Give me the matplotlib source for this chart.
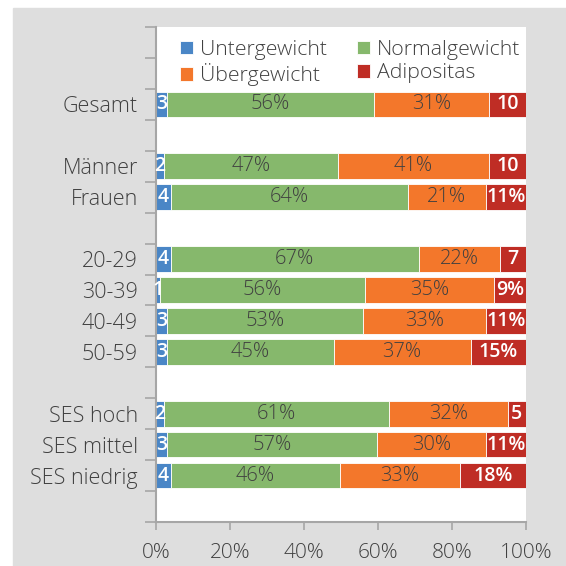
import matplotlib
matplotlib.use("Agg")
from matplotlib import pyplot as plt
from matplotlib.patches import Rectangle

# categories, top to bottom; None marks an empty spacer row
categories = [None, None, "Gesamt", None, "Männer", "Frauen", None,
              "20-29", "30-39", "40-49", "50-59", None,
              "SES hoch", "SES mittel", "SES niedrig", None]

series = ["Untergewicht", "Normalgewicht", "Übergewicht", "Adipositas"]

# values in %, one per non-empty row (same order as categories)
untergewicht = [2.9, 2.1, 4.0, 4.0, 1.0, 3.0, 3.0, 2.2, 3.0, 4.0]
normalgewicht = [56.1, 47.1, 64.0, 67.0, 55.6, 53.0, 45.0, 60.9, 56.6, 45.6]
uebergewicht = [31.0, 40.8, 21.1, 22.0, 34.7, 33.1, 37.0, 32.0, 29.6, 32.6]
adipositas = [10.0, 10.0, 10.9, 7.0, 8.8, 10.9, 15.0, 4.9, 10.8, 17.8]

adipositas_labels = ["10", "10", "11%", "7", "9%", "11%", "15%", "5", "11%", "18%"]

colors = ["#4a86c6", "#86b86c", "#f3772b", "#bf2d25"]
text_dark = "#404040"
font = "Open Sans"

plt.rcParams["font.family"] = [font, "DejaVu Sans"]

fig = plt.figure(figsize=(5.66, 5.66), dpi=100)
fig.add_artist(Rectangle((13 / 566, 0), 1, 1 - 8 / 566,
                         transform=fig.transFigure, color="#dedede", zorder=0))
ax = fig.add_axes([156 / 566, 1 - 522 / 566, 370 / 566, 495 / 566])
ax.set_facecolor("white")

rows = [i for i, c in enumerate(categories) if c is not None]
data = [untergewicht, normalgewicht, uebergewicht, adipositas]

left = [0.0] * len(rows)
bars = []
for name, vals, col in zip(series, data, colors):
    b = ax.barh(rows, vals, left=left, height=0.83, color=col,
                edgecolor="white", linewidth=0.6, label=name)
    bars.append(b)
    left = [l + v for l, v in zip(left, vals)]

# segment labels
for i, y in enumerate(rows):
    x0 = 0.0
    for k, vals in enumerate(data):
        v = vals[i]
        xc = x0 + v / 2
        if k == 0:
            ax.text(xc, y, f"{round(v)}", ha="center", va="center",
                    color="white", fontsize=14, fontweight="semibold")
        elif k == 3:
            ax.text(xc, y, adipositas_labels[i], ha="center", va="center",
                    color="white", fontsize=14, fontweight="semibold")
        else:
            ax.text(xc, y, f"{round(v)}%", ha="center", va="center",
                    color=text_dark, fontsize=14.5, fontweight="light")
        x0 += v

ax.set_xlim(0, 100)
ax.set_ylim(len(categories) - 0.5, -0.5)

ax.set_xticks(range(0, 101, 20))
ax.set_xticklabels([f"{t}%" for t in range(0, 101, 20)])
ax.set_yticks(rows)
ax.set_yticklabels([categories[r] for r in rows])
ax.set_yticks([i - 0.5 for i in range(len(categories) + 1)], minor=True)

ax.tick_params(axis="y", which="major", length=0, pad=13, labelsize=15.5,
               labelcolor=text_dark)
ax.tick_params(axis="y", which="minor", length=8, color="#a6a6a6", width=1.2)
ax.tick_params(axis="x", length=6, color="#a6a6a6", width=1.2, labelsize=15,
               labelcolor=text_dark, pad=9)
for lbl in ax.get_yticklabels() + ax.get_xticklabels():
    lbl.set_fontweight("light")

for s in ["top", "right"]:
    ax.spines[s].set_visible(False)
for s in ["left", "bottom"]:
    ax.spines[s].set_color("#a6a6a6")
    ax.spines[s].set_linewidth(1.5)

order = [0, 2, 1, 3]
handles = [bars[i] for i in order]
leg = ax.legend(handles, [series[i] for i in order], ncol=2, frameon=False,
                loc="upper left", bbox_to_anchor=(0.03, 1.0),
                handlelength=0.6, handleheight=0.6, handletextpad=0.35,
                columnspacing=1.4, borderpad=0.1, labelspacing=0.17,
                prop={"family": [font, "DejaVu Sans"], "weight": "light", "size": 15.3})
for t in leg.get_texts():
    t.set_color(text_dark)

fig.savefig("out.png", dpi=100)
